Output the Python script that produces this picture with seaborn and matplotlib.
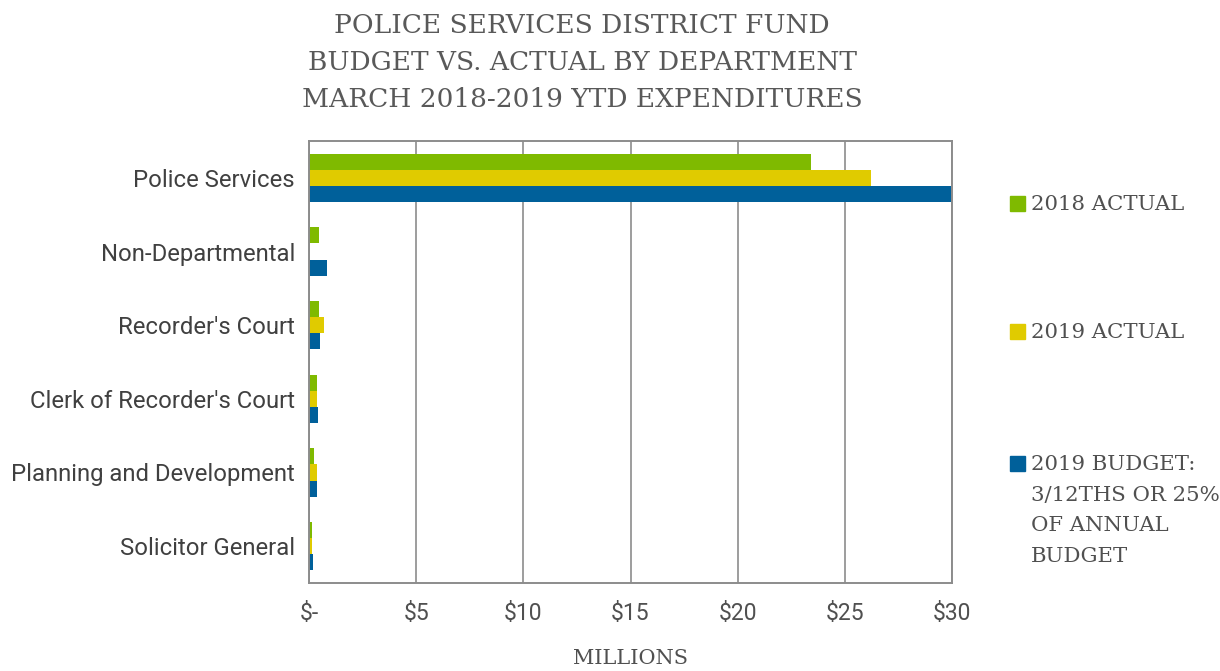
import matplotlib
matplotlib.use("Agg")
import matplotlib.pyplot as plt
import matplotlib.patches as mpatches
import seaborn as sns
import pandas as pd

departments = ["Police Services", "Non-Departmental", "Recorder's Court",
               "Clerk of Recorder's Court", "Planning and Development", "Solicitor General"]
series_names = ["2018 ACTUAL", "2019 ACTUAL",
                "2019 BUDGET:\n3/12THS OR 25%\nOF ANNUAL\nBUDGET"]
actual_2018 = [23.4, 0.45, 0.45, 0.35, 0.25, 0.15]
actual_2019 = [26.2, 0.0, 0.7, 0.35, 0.35, 0.12]
budget_2019 = [29.95, 0.85, 0.5, 0.4, 0.35, 0.18]
x_ticks = [0, 5, 10, 15, 20, 25, 30]
x_tick_labels = ["$-", "$5", "$10", "$15", "$20", "$25", "$30"]
colors = ["#7FBA00", "#E0CB00", "#00609A"]

rows = []
for name, vals in zip(series_names, [actual_2018, actual_2019, budget_2019]):
    for d, v in zip(departments, vals):
        rows.append({"Department": d, "Series": name, "Value": v})
df = pd.DataFrame(rows)

sns.set_style("white")
plt.rcParams["font.family"] = ["Roboto", "DejaVu Sans"]

W, H = 1220, 671
fig = plt.figure(figsize=(W / 100, H / 100), dpi=100)
ax = fig.add_axes([309/W, 1 - 583/H, (952-309)/W, (583-141)/H])

sns.barplot(data=df, y="Department", x="Value", hue="Series", order=departments,
            hue_order=series_names, palette=colors, saturation=1, width=0.66,
            orient="h", ax=ax, legend=False, edgecolor="none")

ax.set_xlim(0, 30)
ax.set_xticks(x_ticks)
ax.set_xticklabels(x_tick_labels)
ax.grid(axis="x", color="#8c8c8c", linewidth=1.2)
ax.grid(axis="y", visible=False)
ax.set_axisbelow(True)
for s in ax.spines.values():
    s.set_visible(True)
    s.set_color("#8c8c8c")
    s.set_linewidth(1.4)
ax.tick_params(axis="x", length=0, pad=14, labelsize=16.5, labelcolor="#505050")
ax.tick_params(axis="y", length=0, pad=10, labelsize=17.2, labelcolor="#404040")
ax.set_ylabel("")
ax.set_xlabel("MILLIONS", family="DejaVu Serif", fontsize=15, color="#505050", labelpad=17)

fig.text(582/W, 1 - 62.5/H,
         "POLICE SERVICES DISTRICT FUND\nBUDGET VS. ACTUAL BY DEPARTMENT\nMARCH 2018-2019 YTD EXPENDITURES",
         ha="center", va="center", family="DejaVu Serif", fontsize=19, color="#595959",
         linespacing=1.62)

# legend entries
legend_y = [203, 331, 463]
for c, n, y in zip(colors, series_names, legend_y):
    fig.patches.append(mpatches.Rectangle((1010/W, 1 - (y + 7.5)/H), 15/W, 15/H,
                                          transform=fig.transFigure, color=c, figure=fig))
    fig.text(1031/W, 1 - (y - 8)/H, n, ha="left", va="top", family="DejaVu Serif",
             fontsize=15.3, color="#505050", linespacing=1.78)

fig.savefig("out.png", dpi=100)
